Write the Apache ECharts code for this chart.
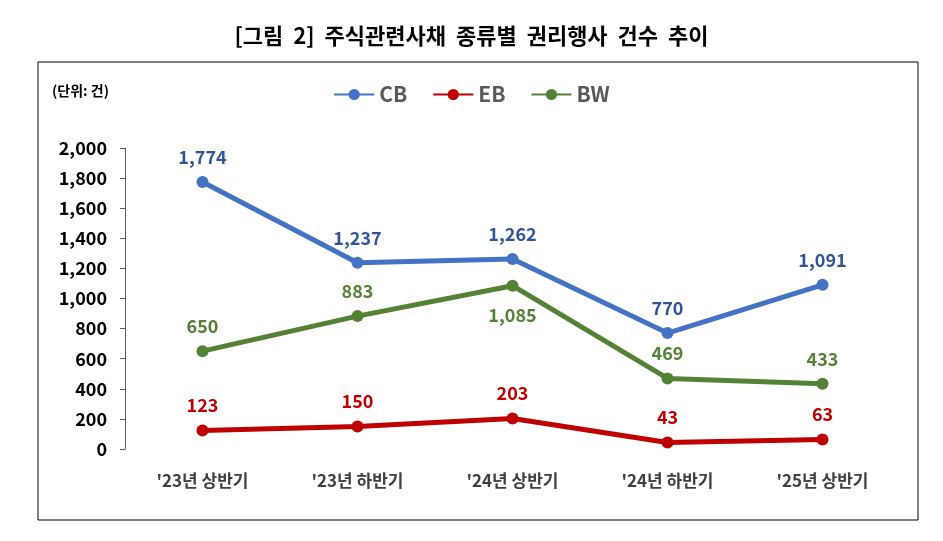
<!DOCTYPE html>
<html>
<head>
<meta charset="utf-8">
<script src="https://cdn.jsdelivr.net/npm/echarts@6/dist/echarts.min.js"></script>
</head>
<body style="margin:0;background:#fff">
<div id="main" style="width:943px;height:541px"></div>
<script>
var categories = ["'23년 상반기", "'23년 하반기", "'24년 상반기", "'24년 하반기", "'25년 상반기"];
var cbData = [1774, 1237, 1262, 770, 1091];
var ebData = [123, 150, 203, 43, 63];
var bwData = [650, 883, 1085, 469, 433];

var font = '"Noto Sans CJK KR", sans-serif';
var chart = echarts.init(document.getElementById('main'));

function lbl(color, pos) {
    return {show: true, position: pos || 'top', distance: 10, color: color, fontWeight: 'bold', fontSize: 18, fontFamily: font,
        formatter: function (p) { return p.value.toLocaleString('en-US'); }};
}

chart.setOption({
    animation: false,
    title: {text: '[그림  2]  주식관련사채  종류별  권리행사  건수  추이', left: 'center', top: 20,
        textStyle: {fontSize: 22, fontWeight: 'bold', color: '#000', fontFamily: font}},
    graphic: [
        {type: 'rect', shape: {x: 38, y: 62, width: 880, height: 458}, style: {fill: 'none', stroke: '#000', lineWidth: 1}},
        {type: 'text', left: 52, top: 84, style: {text: '(단위: 건)', fontSize: 14, fontWeight: 'bold', fill: '#000', fontFamily: font}}
    ],
    legend: {top: 79, left: 'center', itemWidth: 40, itemHeight: 14, itemGap: 25,
        textStyle: {fontSize: 21, fontWeight: 'bold', color: '#595959', fontFamily: font},
        data: ['CB', 'EB', 'BW']},
    grid: {left: 125, right: 43, top: 148, bottom: 92},
    xAxis: {type: 'category', data: categories, axisLine: {show: false}, axisTick: {show: false},
        axisLabel: {margin: 23, fontSize: 17, fontWeight: 'bold', color: '#404040', fontFamily: font}},
    yAxis: {type: 'value', min: 0, max: 2000, interval: 200, splitLine: {show: false},
        axisLine: {show: true, lineStyle: {color: '#595959'}}, axisTick: {show: true, length: 5, lineStyle: {color: '#595959'}},
        axisLabel: {margin: 18, fontSize: 18, fontWeight: 'bold', color: '#000', fontFamily: font,
            formatter: function (v) { return v.toLocaleString('en-US'); }}},
    series: [
        {name: 'CB', type: 'line', data: cbData, color: '#4472C4', lineStyle: {width: 5}, symbol: 'circle', symbolSize: 12, label: lbl('#2F5597')},
        {name: 'EB', type: 'line', data: ebData, color: '#C00000', lineStyle: {width: 5}, symbol: 'circle', symbolSize: 12, label: lbl('#C00000')},
        {name: 'BW', type: 'line', data: bwData.map(function (v, i) {
            return i === 2 ? {value: v, label: {position: 'bottom', distance: 14}} : v;
        }), color: '#548235', lineStyle: {width: 5}, symbol: 'circle', symbolSize: 12, label: lbl('#548235')}
    ]
});
</script>
</body>
</html>
